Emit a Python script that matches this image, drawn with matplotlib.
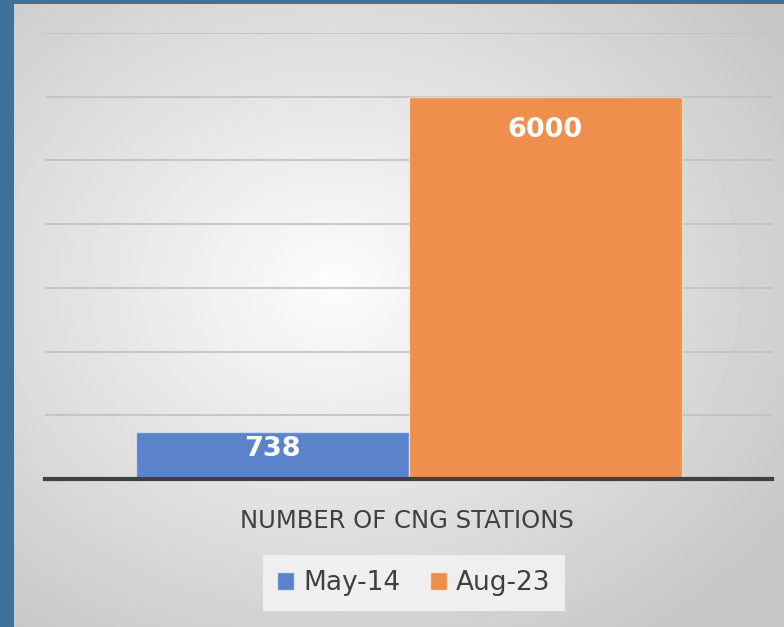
import matplotlib.pyplot as plt
import numpy as np
from matplotlib.patches import Patch

# data
category = "NUMBER OF CNG STATIONS"
series = ["May-14", "Aug-23"]
values = [738, 6000]
colors = ["#5B83CC", "#EE8F4D"]
y_ticks = [0, 1000, 2000, 3000, 4000, 5000, 6000, 7000]

W, H = 784, 627
fig = plt.figure(figsize=(W / 100, H / 100), dpi=100)
fig.patch.set_facecolor("#3F729A")

# gradient panel behind the chart
bg = fig.add_axes([14 / W, 0, 1 - 14 / W, 1 - 4 / H])
bg.set_axis_off()
yy, xx = np.mgrid[0:623, 0:770]
r = np.hypot((xx - 320) / 770, (yy - 280) / 623)
shade = np.clip(0.99 - 0.30 * r, 0.78, 1.0)
bg.imshow(shade, cmap="gray", vmin=0, vmax=1, aspect="auto", interpolation="bilinear")

# main axes
ax = fig.add_axes([45 / W, (H - 479) / H, (772 - 45) / W, (479 - 33) / H])
ax.patch.set_alpha(0)
ax.set_ylim(0, 7000)
ax.set_xlim(-0.5, 0.5)
ax.set_yticks(y_ticks)
ax.yaxis.grid(True, color="#c0c0c0", linewidth=1.2)
ax.set_axisbelow(True)
for s in ["top", "left", "right"]:
    ax.spines[s].set_visible(False)
ax.spines["bottom"].set_color("#404040")
ax.spines["bottom"].set_linewidth(3)
ax.tick_params(length=0, labelleft=False, labelbottom=False)

width = 273 / 727
xpos = [-width / 2, width / 2]
bars = ax.bar(xpos, values, width=width, color=colors,
              edgecolor=(1, 1, 1, 0.5), linewidth=1, zorder=2)

px_per_unit = (479 - 33) / 7000
for b, v in zip(bars, values):
    off = min(33, v * px_per_unit / 2 - 6)
    ax.annotate(str(v), (b.get_x() + b.get_width() / 2, v), xytext=(0, -off * 0.72),
                textcoords="offset points", ha="center", va="center",
                color="white", fontsize=19.5, fontweight="bold", zorder=3)

fig.text(407 / W, 1 - 521 / H, category, ha="center", va="center",
         color="#404040", fontsize=17.5)

handles = [Patch(facecolor=c, edgecolor=(1, 1, 1, 0.6), linewidth=1) for c in colors]
leg = fig.legend(handles, series, loc="center", bbox_to_anchor=(414 / W, 1 - 583 / H),
                 ncol=2, fontsize=19, frameon=True, facecolor="#efefef", edgecolor="none",
                 fancybox=False, framealpha=1, handlelength=0.65, handleheight=0.65,
                 handletextpad=0.35, columnspacing=1.1, borderpad=0.55)
for t in leg.get_texts():
    t.set_color("#404040")

fig.savefig("out.png", dpi=100)
